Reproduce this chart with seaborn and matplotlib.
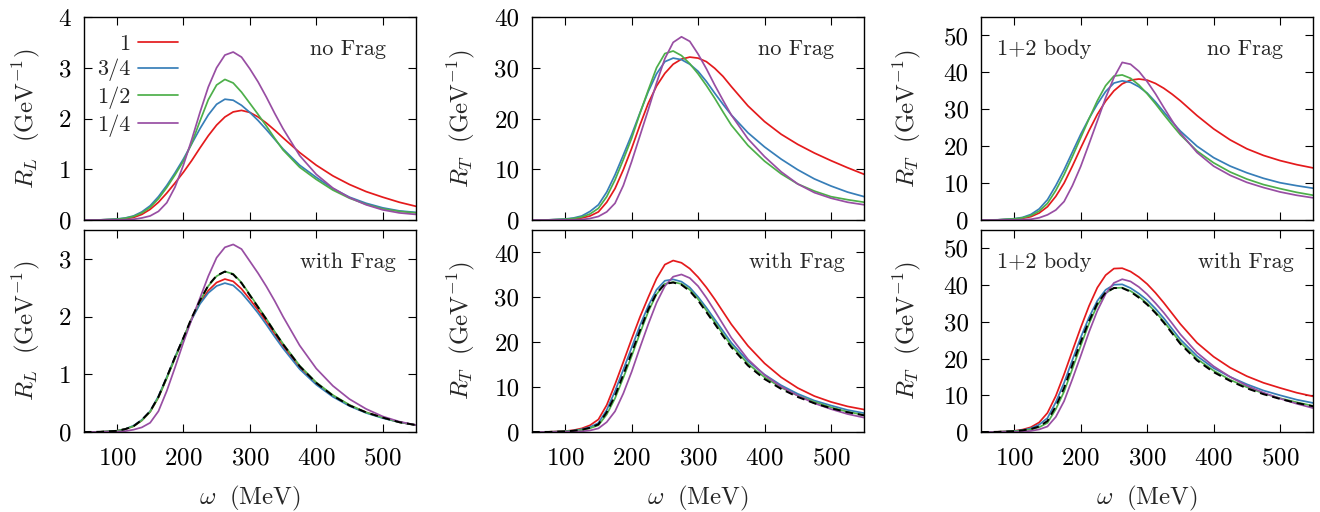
import numpy as np
import pandas as pd
import matplotlib
matplotlib.use('Agg')
import matplotlib.pyplot as plt
import seaborn as sns
from matplotlib.ticker import MultipleLocator, FuncFormatter

# ===================== DADOS =====================
omega = [50, 75, 100, 112.5, 125, 137.5, 150, 162.5, 175, 187.5, 200, 212.5, 225, 237.5,
         250, 262.5, 275, 287.5, 300, 312.5, 325, 337.5, 350, 375, 400, 425, 450, 475,
         500, 525, 550]

scales = ['1', '3/4', '1/2', '1/4']

# R_L, sem fragmentacao
rl_nofrag_1 = [0, 0.002, 0.012, 0.025, 0.05, 0.11, 0.21, 0.35, 0.53, 0.73, 0.94, 1.17, 1.42, 1.66,
               1.87, 2.03, 2.13, 2.16, 2.12, 2.03, 1.91, 1.77, 1.62, 1.33, 1.08, 0.87, 0.70, 0.56,
               0.45, 0.35, 0.27]
rl_nofrag_34 = [0, 0.003, 0.02, 0.04, 0.08, 0.16, 0.28, 0.46, 0.68, 0.93, 1.20, 1.50, 1.80, 2.07,
                2.28, 2.38, 2.36, 2.26, 2.12, 1.96, 1.78, 1.59, 1.40, 1.08, 0.84, 0.62, 0.45, 0.33,
                0.24, 0.18, 0.15]
rl_nofrag_12 = [0, 0.002, 0.015, 0.035, 0.07, 0.14, 0.25, 0.42, 0.64, 0.89, 1.16, 1.51, 1.95, 2.37,
                2.66, 2.77, 2.70, 2.52, 2.30, 2.08, 1.85, 1.61, 1.38, 1.04, 0.80, 0.59, 0.43, 0.31,
                0.22, 0.17, 0.14]
rl_nofrag_14 = [0, 0, 0.003, 0.007, 0.015, 0.04, 0.08, 0.17, 0.34, 0.65, 1.08, 1.58, 2.12, 2.62,
                3.00, 3.25, 3.31, 3.21, 2.98, 2.72, 2.42, 2.10, 1.80, 1.27, 0.90, 0.63, 0.44, 0.30,
                0.20, 0.14, 0.11]

# R_L, com fragmentacao
rl_frag_1 = [0, 0.003, 0.02, 0.05, 0.10, 0.20, 0.35, 0.60, 0.94, 1.29, 1.62, 1.96, 2.24, 2.45,
             2.59, 2.65, 2.61, 2.48, 2.30, 2.11, 1.91, 1.70, 1.49, 1.12, 0.84, 0.63, 0.46, 0.34,
             0.25, 0.17, 0.12]
rl_frag_34 = [0, 0.003, 0.02, 0.05, 0.11, 0.21, 0.36, 0.62, 0.95, 1.30, 1.63, 1.95, 2.22, 2.41,
              2.53, 2.58, 2.54, 2.41, 2.24, 2.06, 1.86, 1.65, 1.45, 1.09, 0.82, 0.61, 0.45, 0.33,
              0.24, 0.17, 0.12]
rl_frag_12 = [0, 0.003, 0.02, 0.05, 0.10, 0.20, 0.35, 0.60, 0.93, 1.28, 1.62, 1.97, 2.27, 2.53,
              2.70, 2.78, 2.74, 2.59, 2.38, 2.17, 1.96, 1.74, 1.53, 1.15, 0.86, 0.64, 0.47, 0.34,
              0.25, 0.17, 0.12]
rl_frag_14 = [0, 0.001, 0.006, 0.015, 0.04, 0.08, 0.16, 0.36, 0.71, 1.12, 1.55, 1.95, 2.32, 2.70,
              3.02, 3.20, 3.25, 3.17, 2.96, 2.75, 2.52, 2.27, 2.00, 1.50, 1.10, 0.80, 0.57, 0.40,
              0.27, 0.18, 0.12]
rl_frag_ref = [0, 0.003, 0.02, 0.05, 0.10, 0.21, 0.36, 0.61, 0.95, 1.30, 1.63, 1.98, 2.28, 2.54,
               2.71, 2.78, 2.73, 2.58, 2.37, 2.16, 1.95, 1.73, 1.52, 1.14, 0.85, 0.63, 0.46, 0.34,
               0.25, 0.17, 0.12]

# R_T, sem fragmentacao
rt_nofrag_1 = [0, 0.02, 0.1, 0.2, 0.4, 0.8, 1.6, 3.5, 6.2, 9.9, 14.1, 18.7, 23.0, 26.4,
               28.9, 30.7, 31.7, 32.1, 31.9, 31.2, 29.9, 28.3, 26.3, 22.5, 19.4, 16.9, 14.9, 13.2,
               11.7, 10.3, 9.0]
rt_nofrag_34 = [0, 0.03, 0.2, 0.4, 0.8, 1.7, 3.0, 5.5, 8.9, 12.8, 16.8, 21.1, 25.3, 28.8,
                31.2, 31.9, 31.6, 30.7, 29.3, 27.3, 25.0, 22.8, 20.7, 17.2, 14.4, 12.0, 9.9, 8.1,
                6.7, 5.5, 4.6]
rt_nofrag_12 = [0, 0.02, 0.15, 0.3, 0.6, 1.2, 2.3, 4.6, 7.9, 11.9, 16.1, 21.0, 25.6, 30.0,
                32.8, 33.3, 32.4, 30.8, 28.8, 26.5, 24.0, 21.3, 18.7, 14.7, 11.6, 9.1, 7.1, 5.7,
                4.6, 4.0, 3.5]
rt_nofrag_14 = [0, 0, 0.03, 0.05, 0.1, 0.3, 0.7, 1.6, 3.3, 6.8, 11.5, 16.6, 21.7, 27.0,
                31.8, 35.0, 36.1, 35.2, 32.7, 29.8, 26.6, 23.6, 20.7, 16.0, 12.5, 9.5, 7.1, 5.4,
                4.3, 3.5, 3.0]

# R_T, com fragmentacao
rt_frag_1 = [0, 0.03, 0.2, 0.4, 0.8, 1.5, 2.8, 6.0, 10.6, 15.6, 20.7, 25.6, 30.0, 34.2,
             37.3, 38.2, 37.7, 36.4, 34.5, 32.2, 29.6, 26.8, 24.0, 19.2, 15.3, 12.2, 9.8, 8.0,
             6.7, 5.7, 5.0]
rt_frag_34 = [0, 0.02, 0.15, 0.3, 0.6, 1.1, 2.0, 4.9, 9.1, 13.9, 18.8, 23.7, 28.1, 31.7,
              33.7, 34.0, 33.5, 32.2, 30.1, 27.7, 25.1, 22.5, 19.9, 15.8, 12.8, 10.4, 8.5, 7.0,
              5.9, 4.9, 4.2]
rt_frag_12 = [0, 0.02, 0.12, 0.25, 0.45, 0.85, 1.5, 3.9, 7.5, 12.1, 16.9, 22.0, 26.8, 30.7,
              33.0, 33.4, 33.0, 31.7, 29.6, 27.1, 24.5, 21.8, 19.3, 15.2, 12.2, 9.9, 8.1, 6.7,
              5.5, 4.5, 3.8]
rt_frag_14 = [0, 0, 0.04, 0.08, 0.15, 0.35, 0.8, 2.2, 4.6, 8.6, 13.4, 18.8, 24.0, 28.8,
              32.5, 34.6, 35.1, 34.3, 32.5, 29.9, 27.0, 24.0, 21.0, 16.2, 12.7, 10.1, 8.1, 6.4,
              5.1, 4.0, 3.2]
rt_frag_ref = [0, 0.02, 0.13, 0.27, 0.5, 0.95, 1.7, 4.4, 8.1, 12.8, 17.6, 22.6, 27.3, 30.9,
               33.0, 33.3, 32.8, 31.4, 29.3, 26.7, 24.1, 21.4, 18.9, 14.8, 11.8, 9.6, 7.8, 6.4,
               5.3, 4.4, 3.7]

# R_T 1+2 corpos, sem fragmentacao
rt2_nofrag_1 = [0, 0.03, 0.2, 0.45, 0.9, 1.9, 3.6, 6.4, 10.0, 14.6, 19.5, 24.2, 28.6, 32.2,
                35.0, 36.9, 37.9, 38.2, 37.9, 37.0, 35.7, 34.1, 32.3, 28.3, 24.7, 21.7, 19.3, 17.5,
                16.1, 15.0, 14.1]
rt2_nofrag_34 = [0, 0.05, 0.35, 0.7, 1.5, 3.0, 5.5, 9.3, 13.6, 18.4, 23.2, 27.5, 31.4, 34.8,
                 37.1, 37.7, 37.3, 36.1, 34.4, 32.0, 29.3, 26.6, 24.1, 20.0, 16.9, 14.6, 12.8, 11.3,
                 10.1, 9.3, 8.6]
rt2_nofrag_12 = [0, 0.04, 0.3, 0.6, 1.2, 2.4, 4.5, 8.0, 12.3, 17.2, 22.3, 27.4, 32.3, 36.4,
                 39.0, 39.3, 38.4, 36.6, 34.2, 31.5, 28.6, 25.8, 23.1, 18.7, 15.5, 13.0, 11.1, 9.6,
                 8.5, 7.5, 6.7]
rt2_nofrag_14 = [0, 0, 0.05, 0.1, 0.2, 0.6, 1.4, 2.7, 5.0, 9.3, 14.5, 20.6, 26.8, 33.1,
                 38.6, 42.7, 42.2, 40.3, 37.5, 34.2, 30.5, 26.9, 23.6, 18.3, 14.6, 12.1, 10.2, 8.8,
                 7.6, 6.7, 6.0]

# R_T 1+2 corpos, com fragmentacao
rt2_frag_1 = [0, 0.05, 0.3, 0.65, 1.3, 2.6, 5.2, 9.8, 15.7, 22.1, 28.4, 34.3, 39.3, 42.7,
              44.5, 44.6, 43.7, 42.2, 40.3, 37.9, 35.2, 32.3, 29.4, 24.3, 20.5, 17.5, 15.2, 13.4,
              12.0, 10.7, 9.7]
rt2_frag_34 = [0, 0.04, 0.25, 0.5, 1.0, 2.0, 3.8, 8.1, 13.4, 19.6, 25.7, 31.2, 35.7, 38.7,
               40.1, 40.2, 39.2, 37.7, 35.9, 33.6, 31.0, 28.1, 25.2, 20.7, 17.4, 15.0, 13.0, 11.3,
               10.0, 8.8, 7.9]
rt2_frag_12 = [0, 0.03, 0.2, 0.4, 0.7, 1.3, 2.5, 6.2, 11.0, 17.2, 23.5, 29.5, 34.5, 37.8,
               39.2, 39.3, 38.4, 36.9, 35.0, 32.7, 30.1, 27.2, 24.4, 19.9, 16.7, 14.2, 12.2, 10.5,
               9.2, 8.1, 7.1]
rt2_frag_14 = [0, 0, 0.05, 0.12, 0.3, 0.7, 1.5, 4.1, 8.4, 14.4, 20.7, 27.2, 33.0, 37.6,
               40.6, 41.6, 41.0, 39.5, 37.5, 35.1, 32.5, 29.6, 26.6, 21.6, 17.9, 15.0, 12.6, 10.7,
               9.1, 7.7, 6.5]
rt2_frag_ref = [0, 0.03, 0.22, 0.45, 0.8, 1.5, 3.0, 7.0, 12.0, 18.3, 24.5, 30.2, 35.0, 38.0,
                39.2, 39.2, 38.2, 36.6, 34.7, 32.4, 29.8, 26.9, 24.0, 19.5, 16.3, 13.9, 11.9, 10.3,
                9.0, 7.9, 7.0]

# ===================== ESTILO =====================
sns.set_style('ticks')
plt.rcParams['font.family'] = ['cmr10', 'DejaVu Serif']
plt.rcParams['mathtext.fontset'] = 'cm'
plt.rcParams['axes.formatter.use_mathtext'] = True
plt.rcParams['axes.unicode_minus'] = False

cores = ['#e41a1c', '#377eb8', '#4daf4a', '#984ea3']

paineis = [
    # (linha, coluna, curvas, referencia tracejada, ylabel, ymax, passo, texto esquerdo, texto direito)
    (0, 0, [rl_nofrag_1, rl_nofrag_34, rl_nofrag_12, rl_nofrag_14], None,
     r'$R_L\ \ (\mathrm{GeV}^{-1})$', 4, 1, None, 'no Frag'),
    (1, 0, [rl_frag_1, rl_frag_34, rl_frag_12, rl_frag_14], rl_frag_ref,
     r'$R_L\ \ (\mathrm{GeV}^{-1})$', 3.5, 1, None, 'with Frag'),
    (0, 1, [rt_nofrag_1, rt_nofrag_34, rt_nofrag_12, rt_nofrag_14], None,
     r'$R_T\ \ (\mathrm{GeV}^{-1})$', 40, 10, None, 'no Frag'),
    (1, 1, [rt_frag_1, rt_frag_34, rt_frag_12, rt_frag_14], rt_frag_ref,
     r'$R_T\ \ (\mathrm{GeV}^{-1})$', 45, 10, None, 'with Frag'),
    (0, 2, [rt2_nofrag_1, rt2_nofrag_34, rt2_nofrag_12, rt2_nofrag_14], None,
     r'$R_T\ \ (\mathrm{GeV}^{-1})$', 55, 10, '1+2 body', 'no Frag'),
    (1, 2, [rt2_frag_1, rt2_frag_34, rt2_frag_12, rt2_frag_14], rt2_frag_ref,
     r'$R_T\ \ (\mathrm{GeV}^{-1})$', 55, 10, '1+2 body', 'with Frag'),
]

esquerdas = [0.0634, 0.403, 0.7432]
largura = 0.2517
linhas = [(0.5703, 0.3965), (0.15625, 0.3945)]
ylabel_x = [-0.126, -0.166, -0.175]
texto_dir_x = [0.91, 0.94]

fig = plt.figure(figsize=(13.2, 5.12), dpi=100)

for linha, col, curvas, ref, ylab, ymax, passo, txt_esq, txt_dir in paineis:
    base, altura = linhas[linha]
    ax = fig.add_axes([esquerdas[col], base, largura, altura])

    df = pd.DataFrame({
        'omega': omega * 4,
        'R': sum(curvas, []),
        'escala': np.repeat(scales, len(omega)),
    })
    sns.lineplot(data=df, x='omega', y='R', hue='escala', hue_order=scales,
                 palette=cores, estimator=None, sort=False, lw=1.25,
                 legend=False, ax=ax)
    if ref is not None:
        sns.lineplot(x=omega, y=ref, color='black', lw=1.4,
                     linestyle=(0, (4, 2.5)), estimator=None, ax=ax)

    ax.set_xlim(50, 550)
    ax.set_ylim(0, ymax)
    ax.xaxis.set_major_locator(MultipleLocator(100))
    ax.yaxis.set_major_locator(MultipleLocator(passo))
    ax.yaxis.set_major_formatter(FuncFormatter(lambda v, p: f'{v:g}'))
    ax.tick_params(direction='in', length=6, width=0.8, top=True, right=True,
                   labelsize=18, colors='black')
    ax.tick_params(axis='y', pad=9)
    ax.tick_params(axis='x', pad=11)
    for s in ax.spines.values():
        s.set_linewidth(1.0)
        s.set_color('black')

    ax.set_ylabel(ylab, fontsize=18)
    ax.yaxis.set_label_coords(ylabel_x[col], 0.5)
    if linha == 0:
        ax.set_xlabel('')
        ax.tick_params(axis='x', labelbottom=False)
    else:
        ax.set_xlabel(r'$\omega\ \ (\mathrm{MeV})$', fontsize=18, va='top')
        ax.xaxis.set_label_coords(0.5, -0.255)

    ax.text(texto_dir_x[linha], 0.84, txt_dir, transform=ax.transAxes,
            ha='right', va='center', fontsize=16)
    if txt_esq:
        ax.text(0.048, 0.84, txt_esq, transform=ax.transAxes,
                ha='left', va='center', fontsize=16)

    if linha == 0 and col == 0:
        alcas = ax.get_lines()[:4]
        ax.legend(alcas, scales, loc='upper left', bbox_to_anchor=(0.04, 0.916),
                  markerfirst=False, frameon=False, handlelength=1.8,
                  handletextpad=0.35, labelspacing=0.24, borderpad=0,
                  borderaxespad=0, fontsize=16)

fig.savefig('out.png', dpi=100)
